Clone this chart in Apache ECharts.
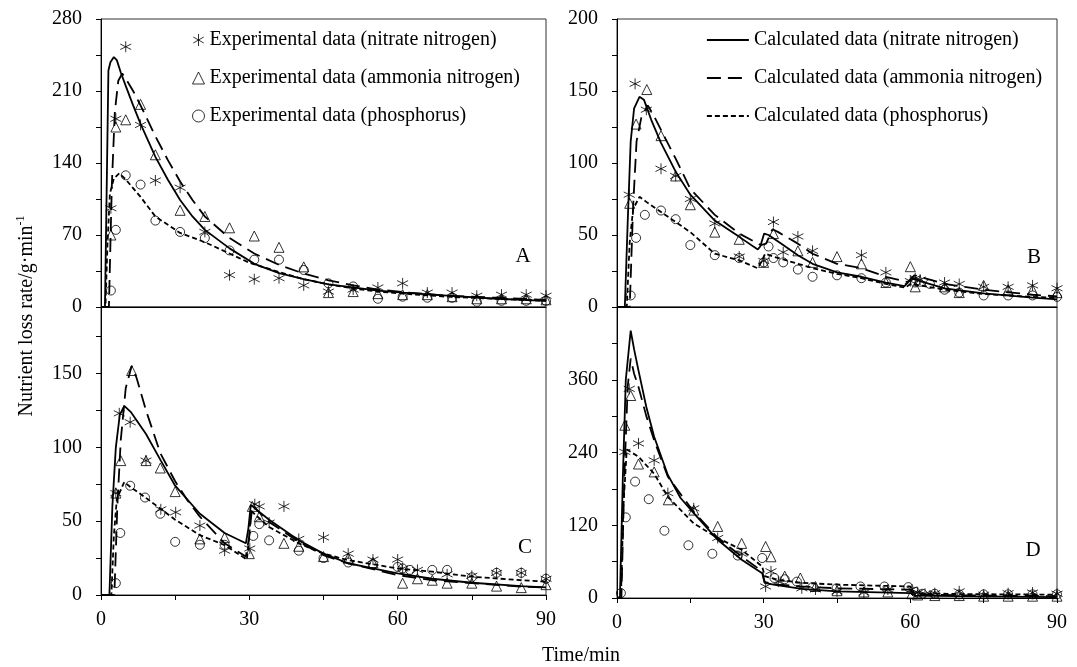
<!DOCTYPE html>
<html><head><meta charset="utf-8">
<script src="https://cdn.jsdelivr.net/npm/echarts@6/dist/echarts.min.js"></script>
<style>html,body{margin:0;padding:0;background:#fff}#c{width:1077px;height:667px}</style>
</head><body><div id="c"></div>
<script>
const FONT = "'Liberation Serif','Times New Roman',serif";

// ---- tick labels ----
const xLabels = [0, 30, 60, 90];
const yLabelsA = [0, 70, 140, 210, 280];
const yLabelsB = [0, 50, 100, 150, 200];
const yLabelsC = [0, 50, 100, 150];
const yLabelsD = [0, 120, 240, 360];

// ---- series names ----
const expNames = ['Experimental data (nitrate nitrogen)', 'Experimental data (ammonia nitrogen)', 'Experimental data (phosphorus)'];
const calNames = ['Calculated data (nitrate nitrogen)', 'Calculated data (ammonia nitrogen)', 'Calculated data (phosphorus)'];
const panelLetters = ['A', 'B', 'C', 'D'];

// ---- panel A: [time, rate] ----
const expNitrateA = [[2,96],[3,183],[5,253],[8,177],[11,123],[16,116],[21,73],[26,31],[31,27],[36,28],[41,21],[46,15],[51,17],[56,19],[61,23],[66,14],[71,14],[76,11],[81,12],[86,12],[90,11]];
const expAmmoniaA = [[2,70],[3,175],[5,182],[8,197],[11,148],[16,94],[21,88],[26,77],[31,69],[36,58],[41,39],[46,14],[51,15],[56,13],[61,12],[66,12],[71,10],[76,8],[81,8],[86,8],[90,7]];
const expPhosA = [[2,16],[3,75],[5,128],[8,119],[11,84],[16,73],[21,67],[26,55],[31,46],[36,46],[41,36],[46,23],[51,20],[56,8],[61,10],[66,9],[71,9],[76,5],[81,6],[86,6],[90,6]];
const calNitrateA = [[0,0],[0.8,0],[1.5,230],[1.9,238],[2.6,243],[3.2,240],[4,228],[5,215],[6.5,196],[8,178],[11,146],[13.5,124],[16,104],[18.5,88],[21,75],[26,57],[31,42],[36,33],[41,27],[46,22],[51,19],[56,16],[61,14],[70,11],[80,8],[90,6]];
const calAmmoniaA = [[0,0],[1.6,0],[2.2,120],[2.8,190],[3.5,220],[4.3,227],[5,222],[6.5,210],[8,196],[11,166],[13.5,143],[16,122],[18.5,104],[21,88],[26,67],[31,52],[36,41],[41,32.5],[46,26],[51,21],[56,17],[61,14.5],[70,11],[80,9],[90,7]];
const calPhosA = [[0,0],[0.9,0],[1.3,60],[1.8,110],[2.6,125],[3.7,130],[5,124],[8,107],[11,88],[16,72],[21,63],[26,52],[30,43],[36,34],[41,27],[46,22],[51,18],[56,15],[61,13],[70,10],[80,8],[90,6]];

// ---- panel B ----
const expNitrateB = [[2.5,78],[3.7,155],[6,137],[9,96],[12,91],[15,75],[20,58],[25,35],[30,32],[32,59],[34,38],[37,49],[40,39],[50,36],[55,24],[60,18],[61,20],[62,19],[67,17],[70,16],[75,14],[80,14],[85,15],[90,13]];
const expAmmoniaB = [[2.6,72],[3.9,127],[6.1,151],[9,119],[12,91],[15,71],[20,52],[25,47],[30,31],[32,51],[37,39],[40,31],[45,35],[50,30],[55,17],[60,28],[61,14],[62,18],[67,14],[70,10],[75,15],[80,12],[85,12],[90,10]];
const expPhosB = [[2.8,8],[3.9,48],[5.7,64],[9,67],[12,61],[15,43],[20,36],[25,34],[30,31],[31,42],[32,34],[34,31],[37,26],[40,21],[45,22],[50,20],[55,17],[61,17],[64,16],[67,12],[70,10],[75,8],[80,8],[85,8],[90,7]];
const calNitrateB = [[0,0],[1.6,0],[2.2,60],[2.8,115],[3.5,138],[4.6,146],[5.5,144],[7,130],[9,114],[12,94],[15,78],[20,60],[25,48.7],[28.8,40],[29.3,42],[30.1,51],[31,50],[34,43],[37,36],[40,30],[45,24],[50,21],[55,17],[58.8,14.5],[59.5,17],[60.2,20],[62,18],[67,13],[75,9.5],[85,6.5],[90,5.3]];
const calAmmoniaB = [[0,0],[2.6,0],[3.3,70],[4,115],[5,132],[6.3,140],[7.5,133],[9,123],[12,103],[15,82],[20,64],[25,51],[29.4,43],[30.5,44],[31.8,54],[33,52],[37,44],[40,37],[45,30],[50,27],[55,21],[59.4,17.4],[60,19],[60.8,22],[62,21],[67,16],[75,12],[85,8.5],[90,7.4]];
const calPhosB = [[0,0],[2,0],[2.6,45],[3.3,68],[4.6,76.5],[6,73],[9,66],[12,59],[15,52],[20,37],[25,32.4],[28.7,27],[29.5,31],[30.3,37],[32,35],[34,33],[40,27],[45,23],[50,20],[55,16],[59,13.4],[60,16],[62,15],[67,12],[75,9],[85,7],[90,6.3]];

// ---- panel C ----
const expNitrateC = [[3,69],[3.7,123],[5.9,117],[9.1,91],[12.1,58],[15.1,56],[20,47],[25,30],[30.1,31.5],[31.1,61.5],[32,60],[34,49],[37,60],[40,38],[45,39],[50,28],[55,24],[60,24],[61,18],[64,17],[70,14],[75,13],[80,15],[85,15],[90,11]];
const expAmmoniaC = [[3,69],[4,91],[6.2,152],[9.1,91],[12,86],[15,70],[20,38],[25,39],[30,28],[30.6,60],[32,53],[37,35],[40,33],[45,26],[50,25],[55,22],[61,8],[64,11],[67,10],[70,8],[75,8],[80,6],[85,5],[90,7]];
const expPhosC = [[3,8],[3.9,42],[5.9,74],[8.9,66],[12,55],[15,36],[20,34],[25,34],[30.8,40],[32,48],[34,37],[40,30],[45,25],[50,22],[55,21],[60,19],[61,18],[62.5,17],[67,17],[70,17],[75,12],[80,15],[85,15],[90,11]];
const calNitrateC = [[0,0],[1.7,0],[2.3,60],[3,100],[3.8,122],[4.7,128],[6,124],[9.1,109],[12.1,91],[15,74],[20,55],[25,42],[29.3,35],[29.8,45],[30.3,61],[31,59],[34,51],[40,37],[45,28],[50,21.5],[55,18],[60,14.6],[67,11],[75,8.3],[85,6],[90,5.2]];
const calAmmoniaC = [[0,0],[2.7,0],[3.3,60],[4,105],[5,140],[6.2,155],[7.2,147],[9.1,125],[12,96],[15,77],[17.5,64],[20,53],[25,35],[29.3,26],[30,40],[30.6,61],[32,56],[34,49.5],[40,36],[45,27],[50,21.4],[60,13.5],[67,10],[75,8],[85,5.6],[90,5]];
const calPhosC = [[0,0],[2.1,0],[2.6,40],[3.2,65],[4.7,76.5],[6,73],[9,66],[12,58.5],[15,51],[20,40.5],[25,33.8],[29.5,24],[30,40],[30.3,57],[31,55],[34,46],[40,35],[45,28],[50,23.6],[60,18],[67,15.8],[75,12.4],[85,10],[90,9]];

// ---- panel D ----
const expNitrateD = [[1.6,241],[2.5,345],[4.4,255],[7.6,227],[10.4,173],[15.7,148],[20.6,99],[25.5,73],[30.4,19],[31.5,44],[33,27],[37.8,16],[40.6,14],[45,11],[50.5,9],[55.4,14],[60.3,14],[61.5,9],[63,7],[65,8],[70,11],[75,5.5],[80,8],[85,9],[90,7]];
const expAmmoniaD = [[1.6,285],[2.8,334],[4.4,221],[7.6,208],[10.5,162],[15.7,145],[20.6,118],[25.5,90],[30.4,85],[31.5,68],[34.3,36],[37.5,33],[40.6,19],[45,12],[50.5,10],[55.4,10],[60.3,7],[61.5,5],[65,4],[70,4],[75,3],[80,3],[85,3],[90,3]];
const expPhosD = [[0.8,8],[1.8,133],[3.7,192],[6.5,163],[9.7,111],[14.6,87],[19.5,73],[24.7,70],[29.7,66],[32.2,33],[34.3,31],[36.8,27],[40,18],[44.9,16],[49.8,19],[54.7,19],[59.6,18],[61,10],[62.5,7],[65,7],[70,6],[75,6],[80,6],[85,6],[90,6]];
const calNitrateD = [[0,0],[0.6,0],[1.2,200],[1.8,360],[2.8,441],[3.5,410],[4.4,375],[6,315],[7.6,266],[10.4,203],[13,165],[15.7,140],[20.6,96],[25.5,63],[29.7,41],[30.2,25],[32,22],[37.8,15],[45,11],[60,8.2],[61,4],[70,3],[90,1.5]];
const calAmmoniaD = [[0,0],[0.9,0],[1.5,200],[2.2,350],[2.8,395],[3.5,370],[4.4,348],[6,300],[7.6,260],[10.4,200],[15.7,142],[20.6,99],[25.5,68.5],[29.7,44],[30.2,26],[33,22],[37.8,19],[45,16],[60,13.7],[60.8,5.5],[70,4.5],[90,3]];
const calPhosD = [[0,0],[0.8,0],[1.3,150],[2,245],[3,240],[4.4,233],[7.6,205],[10.4,167],[15.7,123],[20.6,99],[25.5,79.5],[29.7,52],[30.2,36],[33,30],[37.8,25],[45,22],[55,20],[60,19],[60.8,8],[70,6.5],[90,5.5]];

// ---- layout ----
const grids = [
  {left: 101, top: 19, width: 445, height: 288},
  {left: 617, top: 19, width: 440, height: 288},
  {left: 101, top: 307, width: 445, height: 288},
  {left: 617, top: 307, width: 440, height: 291}
];
const yMax = [280, 200, 195, 480];
const yStep = [35, 25, 25, 60];
const yLabels = [yLabelsA, yLabelsB, yLabelsC, yLabelsD];
const panels = [
  [expNitrateA, expAmmoniaA, expPhosA, calNitrateA, calAmmoniaA, calPhosA],
  [expNitrateB, expAmmoniaB, expPhosB, calNitrateB, calAmmoniaB, calPhosB],
  [expNitrateC, expAmmoniaC, expPhosC, calNitrateC, calAmmoniaC, calPhosC],
  [expNitrateD, expAmmoniaD, expPhosD, calNitrateD, calAmmoniaD, calPhosD]
];

const ASTERISK = 'path://M5 0L5 10M0.67 2.5L9.33 7.5M9.33 2.5L0.67 7.5';
const expSymbols = [ASTERISK, 'triangle', 'circle'];
const expSizes = [11, 10, 9];
const lineTypes = ['solid', [14, 7], [5, 3]];
const hollow = {color: 'rgba(0,0,0,0)', borderColor: '#000', borderWidth: 1};

const xAxis = [], yAxis = [], series = [];
grids.forEach((g, i) => {
  xAxis.push({
    gridIndex: i, type: 'value', min: 0, max: 90, interval: 15,
    axisLine: {show: true, lineStyle: {color: '#000', width: 1}},
    axisTick: {show: i >= 2, length: 5, lineStyle: {color: '#000'}},
    axisLabel: {show: i >= 2, margin: 15, fontSize: 20, fontFamily: FONT, color: '#000',
      formatter: v => xLabels.includes(v) ? String(v) : ''},
    splitLine: {show: false}
  });
  yAxis.push({
    gridIndex: i, type: 'value', min: 0, max: yMax[i], interval: yStep[i],
    axisLine: {show: true, lineStyle: {color: '#000', width: 1}},
    axisTick: {show: true, length: 5, lineStyle: {color: '#000'}},
    axisLabel: {margin: 19, fontSize: 20, fontFamily: FONT, color: '#000',
      formatter: v => yLabels[i].includes(v) ? String(v) : ''},
    splitLine: {show: false}
  });
  const d = panels[i];
  for (let k = 0; k < 3; k++) {
    series.push({
      name: calNames[k], type: 'line', xAxisIndex: i, yAxisIndex: i,
      data: d[3 + k], symbol: 'none', showSymbol: false, z: 2,
      itemStyle: {color: '#000'},
      lineStyle: {color: '#000', width: 1.8, type: lineTypes[k]}
    });
  }
  for (let k = 0; k < 3; k++) {
    series.push({
      name: expNames[k], type: 'scatter', xAxisIndex: i, yAxisIndex: i,
      data: d[k], symbol: expSymbols[k], symbolSize: expSizes[k], z: 3,
      itemStyle: hollow
    });
  }
});

const letterPos = [[523, 256], [1034, 257], [525, 547], [1033, 550]];
const graphic = letterPos.map((p, i) => ({
  type: 'text', x: p[0], y: p[1], z: 10,
  style: {text: panelLetters[i], fontSize: 21, fontFamily: FONT, fill: '#000',
    align: 'center', verticalAlign: 'middle', textAlign: 'center', textVerticalAlign: 'middle'}
}));
graphic.push({
  type: 'text', x: 27, y: 316, rotation: Math.PI / 2, z: 10,
  style: {text: '{a|Nutrient loss rate/g·min}{b|-1}', fill: '#000',
    align: 'center', verticalAlign: 'middle', textAlign: 'center', textVerticalAlign: 'middle',
    rich: {a: {fontSize: 20, fontFamily: FONT, fill: '#000', lineHeight: 24},
           b: {fontSize: 12, fontFamily: FONT, fill: '#000', verticalAlign: 'top', lineHeight: 14}}}
});
graphic.push({
  type: 'text', x: 581, y: 656, z: 10,
  style: {text: 'Time/min', fontSize: 20, fontFamily: FONT, fill: '#000',
    align: 'center', verticalAlign: 'middle', textAlign: 'center', textVerticalAlign: 'middle'}
});

const chart = echarts.init(document.getElementById('c'));
chart.setOption({
  animation: false,
  backgroundColor: '#fff',
  grid: grids.map(g => Object.assign({show: true, borderColor: '#333', borderWidth: 1, backgroundColor: 'transparent'}, g)),
  xAxis, yAxis, series, graphic,
  legend: [
    {data: expNames, orient: 'vertical', left: 192, top: 30, padding: 0, itemGap: 18,
     itemWidth: 12, itemHeight: 12, selectedMode: false,
     itemStyle: {color: 'rgba(0,0,0,0)', borderColor: '#000', borderWidth: 1},
     textStyle: {fontSize: 20, lineHeight: 20, fontFamily: FONT, color: '#000'}},
    {data: calNames, orient: 'vertical', left: 706, top: 30, padding: 0, itemGap: 18,
     itemWidth: 42, itemHeight: 12, selectedMode: false,
     itemStyle: {opacity: 0},
     lineStyle: {color: '#000', width: 1.8},
     textStyle: {fontSize: 20, lineHeight: 20, fontFamily: FONT, color: '#000'}}
  ]
});
</script></body></html>
